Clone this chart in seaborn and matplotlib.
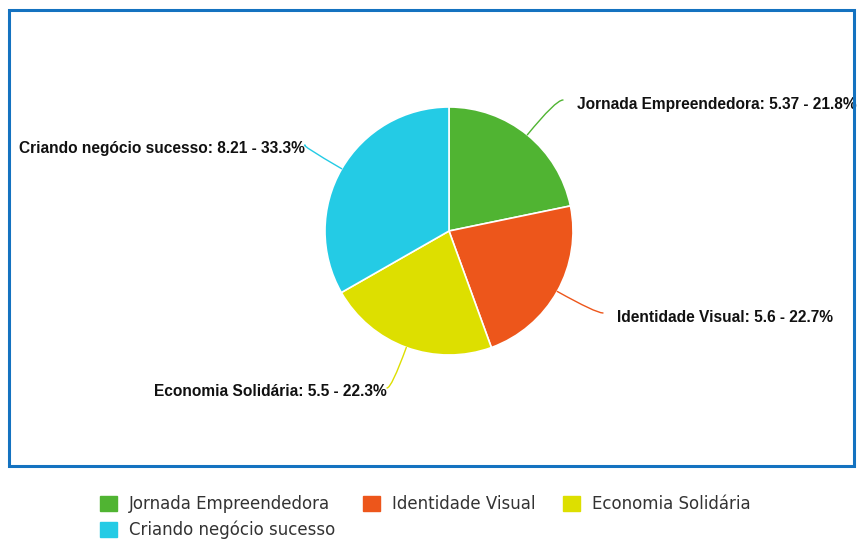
import matplotlib
matplotlib.use("Agg")
import matplotlib.pyplot as plt
from matplotlib.patches import Rectangle, Patch
import numpy as np
import seaborn as sns

categories = ["Jornada Empreendedora", "Identidade Visual", "Economia Solidária", "Criando negócio sucesso"]
values = [5.37, 5.6, 5.5, 8.21]
percents = ["21.8%", "22.7%", "22.3%", "33.3%"]
value_labels = ["5.37", "5.6", "5.5", "8.21"]
colors = ["#50B432", "#ED561B", "#DDDF00", "#24CBE5"]

sns.set_theme(style="white")
palette = sns.color_palette(colors)
plt.rcParams['font.family'] = ['DejaVu Sans']

W, H = 862, 541
fig = plt.figure(figsize=(W / 100, H / 100), dpi=100)
fig.patch.set_facecolor("white")

# pie axes: center (449,231) px, radius 124 px
cx, cy, r = 449, 231, 124
ax = fig.add_axes([(cx - r) / W, (H - cy - r) / H, 2 * r / W, 2 * r / H])

wedges, _ = ax.pie(values, colors=palette, startangle=90, counterclock=False,
                   radius=1, wedgeprops=dict(edgecolor="white", linewidth=1.2))
ax.set_xlim(-1, 1)
ax.set_ylim(-1, 1)
ax.set_aspect("auto")
ax.axis("off")

total = sum(values)
# label anchor (line end) positions in figure pixels, text offsets
label_pos = [(563, 100, 14, "left"), (603, 313, 14, "left"),
             (387, 388, 0, "right"), (305, 145, 0, "right")]

def px_to_fig(x, y):
    return (x / W, 1 - y / H)

cum = 0
for i, v in enumerate(values):
    mid = 90 - (cum + v / 2) / total * 360
    cum += v
    a = np.deg2rad(mid)
    xy = (np.cos(a), np.sin(a))
    lx, ly, off, ha = label_pos[i]
    ax.annotate("", xy=xy, xycoords="data", xytext=px_to_fig(lx, ly),
                textcoords="figure fraction", annotation_clip=False,
                arrowprops=dict(arrowstyle="-", color=colors[i], lw=1.0,
                                shrinkA=0, shrinkB=0,
                                connectionstyle=f"angle3,angleA=0,angleB={mid:.1f}"))
    tx = lx + off if ha == "left" else lx
    fig.text(tx / W, 1 - (ly + 4) / H,
             f"{categories[i]}: {value_labels[i]} - {percents[i]}",
             ha=ha, va="center", fontsize=11.2, fontweight="bold",
             family=["Liberation Sans", "DejaVu Sans"], color="#111111")

# border box
border = Rectangle((9 / W, 1 - 466 / H), (854 - 9) / W, (466 - 10) / H,
                   transform=fig.transFigure, fill=False, edgecolor="#1472C0",
                   linewidth=2.2, zorder=10)
fig.patches.append(border)

# matplotlib fills legend column-major; reorder so rows read J, I, E / C
order = [0, 3, 1, 2]
handles = [Patch(facecolor=colors[i], edgecolor=colors[i]) for i in order]
labels = [categories[i] for i in order]
leg = fig.legend(handles, labels, ncol=3, loc="upper left",
                 bbox_to_anchor=(100 / W, 1 - 495 / H), frameon=False,
                 fontsize=12.0, handlelength=1.0, handleheight=1.0,
                 handletextpad=0.75, columnspacing=1.65, labelspacing=0.45,
                 borderpad=0, borderaxespad=0)
for t in leg.get_texts():
    t.set_color("#333333")

fig.savefig("out.png", dpi=100, facecolor="white")
